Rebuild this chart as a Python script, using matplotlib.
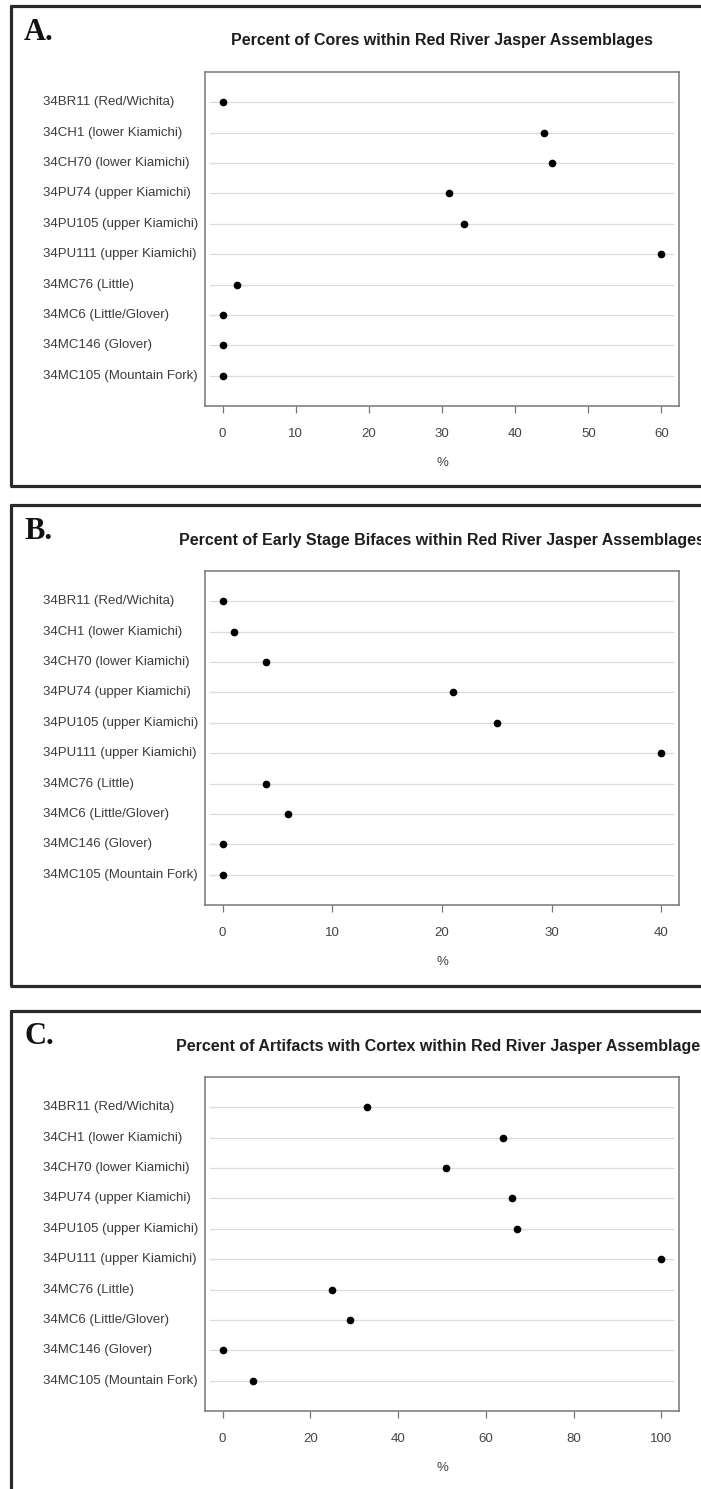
import numpy as np
import matplotlib
matplotlib.use('Agg')
import matplotlib.pyplot as plt
from matplotlib.lines import Line2D
import matplotlib.transforms as mtransforms

plt.rcParams['font.family'] = ['Liberation Sans', 'DejaVu Sans']

# site labels, top to bottom
sites = ['34BR11 (Red/Wichita)', '34CH1 (lower Kiamichi)', '34CH70 (lower Kiamichi)',
         '34PU74 (upper Kiamichi)', '34PU105 (upper Kiamichi)', '34PU111 (upper Kiamichi)',
         '34MC76 (Little)', '34MC6 (Little/Glover)', '34MC146 (Glover)',
         '34MC105 (Mountain Fork)']

cores = [0, 44, 45, 31, 33, 60, 2, 0, 0, 0]
bifaces = [0, 1, 4, 21, 25, 40, 4, 6, 0, 0]
cortex = [33, 64, 51, 66, 67, 100, 25, 29, 0, 7]

panel_letters = ['A.', 'B.', 'C.']
titles = ['Percent of Cores within Red River Jasper Assemblages',
          'Percent of Early Stage Bifaces within Red River Jasper Assemblages',
          'Percent of Artifacts with Cortex within Red River Jasper Assemblages']
xmaxes = [60, 40, 100]
xtick_steps = [10, 10, 20]

W, H = 701, 1489
fig = plt.figure(figsize=(W / 100, H / 100), dpi=100)
fig.patch.set_facecolor('white')

offsets = [0, 499, 1005]
datasets = [cores, bifaces, cortex]

def fx(px):
    return px / W

def fy(py):
    return 1 - py / H

border_col = '#2a2a2a'
n = len(sites)

for i in range(3):
    off = offsets[i]
    vals = datasets[i]
    top, bot = 72 + off, 406 + off
    ax = fig.add_axes([fx(205), fy(bot), fx(679) - fx(205), fy(top) - fy(bot)])
    ypos = np.arange(n, 0, -1)
    for y in ypos:
        ax.axhline(y, xmin=0.011, xmax=0.988, color='#dcdcdc', lw=0.9, zorder=1)
    ax.plot(vals, ypos, 'o', color='black', ms=4.5, zorder=3)
    xm = xmaxes[i]
    ax.set_xlim(-0.04 * xm, 1.04 * xm)
    ax.set_ylim(0, n + 1)
    ax.set_yticks([])
    ax.set_xticks(np.arange(0, xm + 1, xtick_steps[i]))
    ax.tick_params(axis='x', length=5, width=0.9, color='#777777', pad=11,
                   labelsize=9.5, labelcolor='#444444')
    for s in ax.spines.values():
        s.set_color('#777777')
        s.set_linewidth(1.1)
    # site labels, left aligned outside the plot
    tr = mtransforms.blended_transform_factory(fig.transFigure, ax.transData)
    for y, lab in zip(ypos, sites):
        ax.text(fx(43), y, lab, transform=tr, ha='left', va='center',
                fontsize=9.5, color='#3c3c3c', clip_on=False)
    ax.text(0.5, -(463 - 406) / (bot - top), '%', transform=ax.transAxes,
            ha='center', va='center', fontsize=9.5, color='#444444')
    ax.text(0.5, 1 + (72 - 41) / (bot - top), titles[i], transform=ax.transAxes,
            ha='center', va='center', fontsize=11.5, fontweight='bold', color='#1e1e1e')
    fig.text(fx(24), fy(32 + off), panel_letters[i], ha='left', va='center',
             fontsize=22, fontweight='bold', family='Liberation Serif', color='#111111')

    # panel frame
    ytop = 5.5 + off
    ybot = 486.5 + off if i < 2 else H + 5
    fig.add_artist(Line2D([fx(9.5), fx(W + 5)], [fy(ytop), fy(ytop)],
                          color=border_col, lw=2.3, solid_capstyle='butt'))
    fig.add_artist(Line2D([fx(11), fx(11)], [fy(ytop - 1), fy(ybot)],
                          color=border_col, lw=2.3, solid_capstyle='butt'))
    if i < 2:
        fig.add_artist(Line2D([fx(9.5), fx(W + 5)], [fy(ybot), fy(ybot)],
                              color=border_col, lw=2.3, solid_capstyle='butt'))

fig.savefig('out.png', dpi=100)
